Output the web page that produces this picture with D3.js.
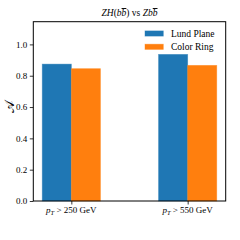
<!DOCTYPE html>
<html>
<head>
<meta charset="utf-8">
<script src="https://cdn.jsdelivr.net/npm/d3@7"></script>
<style>
  body { margin: 0; background: #fff; }
  text { font-family: "Liberation Serif", "DejaVu Serif", serif; fill: #000; }
</style>
</head>
<body>
<div id="chart"></div>
<script>
// values
const categories = ["250", "550"];
const lundPlane = [0.874, 0.936];
const colorRing = [0.845, 0.866];
const seriesNames = ["Lund Plane", "Color Ring"];
const yTicks = [0.0, 0.2, 0.4, 0.6, 0.8, 1.0];

const w = 240, h = 240;
const padL = 33.3, padR = 225.7, padT = 21.7, padB = 201;
const colors = ["#1f77b4", "#ff7f0e"];
const barW = 0.25;

const svg = d3.select("#chart").append("svg")
  .attr("width", w).attr("height", h);

const xScale = d3.scaleLinear().domain([-0.327, 1.327]).range([padL, padR]);
const yScale = d3.scaleLinear().domain([0, 1.145]).range([padB, padT]);

const series = [lundPlane, colorRing];

// bars
series.forEach((vals, s) => {
  svg.append("g").selectAll("rect")
    .data(vals)
    .enter()
    .append("rect")
    .attr("x", (d, i) => xScale(i + (s - 1) * barW))
    .attr("width", xScale(barW) - xScale(0))
    .attr("y", d => yScale(d))
    .attr("height", d => padB - yScale(d))
    .attr("fill", colors[s])
    .attr("stroke", colors[s])
    .attr("stroke-opacity", 0.5)
    .attr("stroke-width", 0.8);
});

// axes
const yAxis = d3.axisLeft(yScale).tickValues(yTicks).tickFormat(d3.format(".1f")).tickSize(3.5).tickPadding(2.5);
const gy = svg.append("g").attr("transform", `translate(${padL},0)`).call(yAxis);
gy.select(".domain").remove();
gy.selectAll("text").style("font-size", "9px").attr("font-family", "Liberation Serif");
gy.selectAll("line").attr("stroke-width", 0.8);

const xAxis = d3.axisBottom(xScale).tickValues([0, 1]).tickFormat("").tickSize(3.5);
const gx = svg.append("g").attr("transform", `translate(0,${padB})`).call(xAxis);
gx.select(".domain").remove();
gx.selectAll("line").attr("stroke-width", 0.8);

// x tick labels: p_T > N GeV
categories.forEach((c, i) => {
  const t = svg.append("text")
    .attr("x", xScale(i))
    .attr("y", padB + 12)
    .attr("text-anchor", "middle")
    .style("font-size", "9px");
  t.append("tspan").attr("font-style", "italic").text("p");
  t.append("tspan").attr("font-style", "italic").attr("dy", 1.8).style("font-size", "6.5px").text("T");
  t.append("tspan").attr("dy", -1.8).text(" > " + c + " GeV");
});

// frame
svg.append("rect")
  .attr("x", padL).attr("y", padT)
  .attr("width", padR - padL).attr("height", padB - padT)
  .attr("fill", "none").attr("stroke", "#000").attr("stroke-width", 1);

// title
const title = svg.append("text")
  .attr("x", (padL + padR) / 2).attr("y", 16)
  .attr("text-anchor", "middle")
  .style("font-size", "9.5px");
title.append("tspan").attr("font-style", "italic").text("ZH");
title.append("tspan").text("(");
title.append("tspan").attr("font-style", "italic").text("b");
title.append("tspan").attr("font-style", "italic").attr("text-decoration", "overline").text("b");
title.append("tspan").text(") vs ");
title.append("tspan").attr("font-style", "italic").text("Zb");
title.append("tspan").attr("font-style", "italic").attr("text-decoration", "overline").text("b");

// y label
svg.append("text")
  .attr("transform", `translate(14,${(padT + padB) / 2 - 4}) rotate(-90)`)
  .attr("text-anchor", "middle")
  .style("font-size", "13px")
  .text("\u{1D49C}");

// legend
const leg = svg.append("g");
seriesNames.forEach((n, i) => {
  const y = 33.5 + i * 13.3;
  leg.append("rect")
    .attr("x", 145).attr("y", y - 2.6)
    .attr("width", 18.3).attr("height", 5.2)
    .attr("fill", colors[i]).attr("stroke", colors[i]).attr("stroke-opacity", 0.5).attr("stroke-width", 0.8);
  leg.append("text")
    .attr("x", 171).attr("y", y + 3)
    .style("font-size", "9.5px")
    .text(n);
});
</script>
</body>
</html>
